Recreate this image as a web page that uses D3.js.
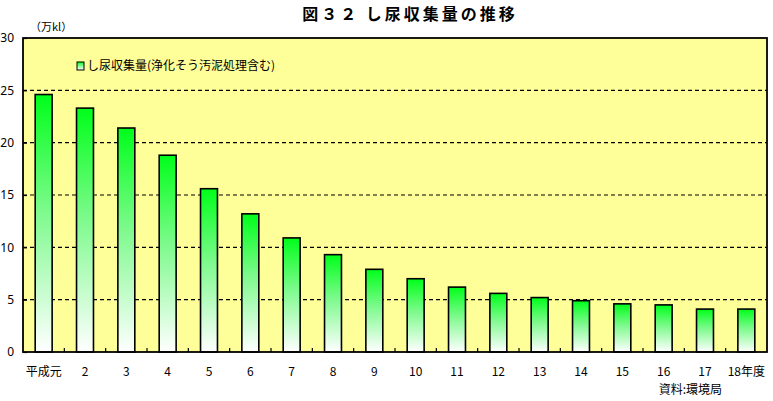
<!DOCTYPE html>
<html>
<head>
<meta charset="utf-8">
<script src="https://cdn.jsdelivr.net/npm/d3@7"></script>
<style>
  body { margin: 0; background: #fff; }
  text { font-family: "Noto Sans CJK JP", "Noto Sans", sans-serif; }
</style>
</head>
<body>
<svg id="canvas"></svg>
<script>
const width = 773;
const height = 401;

const years = ["平成元", "2", "3", "4", "5", "6", "7", "8", "9", "10", "11", "12", "13", "14", "15", "16", "17", "18年度"];
const amounts = [24.6, 23.3, 21.4, 18.8, 15.6, 13.2, 10.9, 9.3, 7.9, 7.0, 6.2, 5.6, 5.2, 4.9, 4.6, 4.5, 4.1, 4.1];
const yTicks = [0, 5, 10, 15, 20, 25, 30];

const plot = { left: 23, right: 767, top: 38, bottom: 352 };

const svg = d3.select("#canvas").attr("width", width).attr("height", height);

const defs = svg.append("defs");
const grad = defs
  .append("linearGradient")
  .attr("id", "barGrad")
  .attr("x1", 0).attr("y1", 0)
  .attr("x2", 0).attr("y2", 1);
grad.append("stop").attr("offset", "0%").attr("stop-color", "#00ff1a");
grad.append("stop").attr("offset", "45%").attr("stop-color", "#7dfa8c");
grad.append("stop").attr("offset", "100%").attr("stop-color", "#ffffff");

const xScale = d3
  .scaleBand()
  .domain(years)
  .range([plot.left, plot.right])
  .paddingInner(0.59)
  .paddingOuter(0.295);

const xBand = d3.scaleBand().domain(years).range([plot.left, plot.right]);

const yScale = d3.scaleLinear().domain([0, 30]).range([plot.bottom, plot.top]);

// plot background
svg
  .append("rect")
  .attr("x", plot.left)
  .attr("y", plot.top)
  .attr("width", plot.right - plot.left)
  .attr("height", plot.bottom - plot.top)
  .attr("fill", "#ffff99");

// dashed gridlines
svg
  .selectAll(".grid")
  .data(yTicks.filter((d) => d > 0 && d < 30))
  .enter()
  .append("line")
  .attr("class", "grid")
  .attr("x1", plot.left)
  .attr("x2", plot.right)
  .attr("y1", (d) => yScale(d))
  .attr("y2", (d) => yScale(d))
  .attr("stroke", "#000")
  .attr("stroke-width", 1.2)
  .attr("stroke-dasharray", "4,3");

// bars
svg
  .selectAll(".bar")
  .data(amounts)
  .enter()
  .append("rect")
  .attr("class", "bar")
  .attr("x", (d, i) => xScale(years[i]))
  .attr("y", (d) => yScale(d))
  .attr("width", xScale.bandwidth())
  .attr("height", (d) => plot.bottom - yScale(d))
  .attr("fill", "url(#barGrad)")
  .attr("stroke", "#000")
  .attr("stroke-width", 1.6);

// y axis
svg
  .append("g")
  .attr("transform", `translate(${plot.left},0)`)
  .call(d3.axisLeft(yScale).tickValues(yTicks).tickSizeInner(-4).tickSizeOuter(0).tickPadding(9))
  .call((g) => g.select(".domain").remove())
  .call((g) => g.selectAll("line").attr("stroke-width", 1.2))
  .call((g) => g.selectAll("text").attr("font-size", 12).attr("fill", "#000").style("font-family", "Noto Sans, sans-serif"));

// x axis labels
svg
  .append("g")
  .attr("transform", `translate(0,${plot.bottom})`)
  .call(d3.axisBottom(xBand).tickSize(0).tickPadding(15))
  .call((g) => g.select(".domain").remove())
  .call((g) => g.selectAll("text").attr("font-size", 12).attr("fill", "#000"));

// x ticks between categories
svg
  .selectAll(".xtick")
  .data(years.slice(1))
  .enter()
  .append("line")
  .attr("class", "xtick")
  .attr("x1", (d) => xBand(d))
  .attr("x2", (d) => xBand(d))
  .attr("y1", plot.bottom)
  .attr("y2", plot.bottom - 4)
  .attr("stroke", "#000")
  .attr("stroke-width", 1.2);

// frame
svg
  .append("rect")
  .attr("x", plot.left)
  .attr("y", plot.top)
  .attr("width", plot.right - plot.left)
  .attr("height", plot.bottom - plot.top)
  .attr("fill", "none")
  .attr("stroke", "#000")
  .attr("stroke-width", 1.8);

// title
svg
  .append("text")
  .attr("x", 410)
  .attr("y", 20)
  .attr("text-anchor", "middle")
  .attr("font-size", 16)
  .attr("font-weight", "bold")
  .attr("letter-spacing", 3)
  .text("図３２ し尿収集量の推移");

// unit
svg
  .append("text")
  .attr("x", 30)
  .attr("y", 31)
  .attr("font-size", 11)
  .text("（万kl）");

// legend
const legend = svg.append("g").attr("transform", "translate(77,62)");
legend
  .append("rect")
  .attr("width", 7)
  .attr("height", 8)
  .attr("fill", "url(#barGrad)")
  .attr("stroke", "#000")
  .attr("stroke-width", 1);
legend
  .append("text")
  .attr("x", 10)
  .attr("y", 8)
  .attr("font-size", 12)
  .text("し尿収集量(浄化そう汚泥処理含む)");

// source
svg
  .append("text")
  .attr("x", 722)
  .attr("y", 394)
  .attr("text-anchor", "end")
  .attr("font-size", 12)
  .text("資料:環境局");
</script>
</body>
</html>
